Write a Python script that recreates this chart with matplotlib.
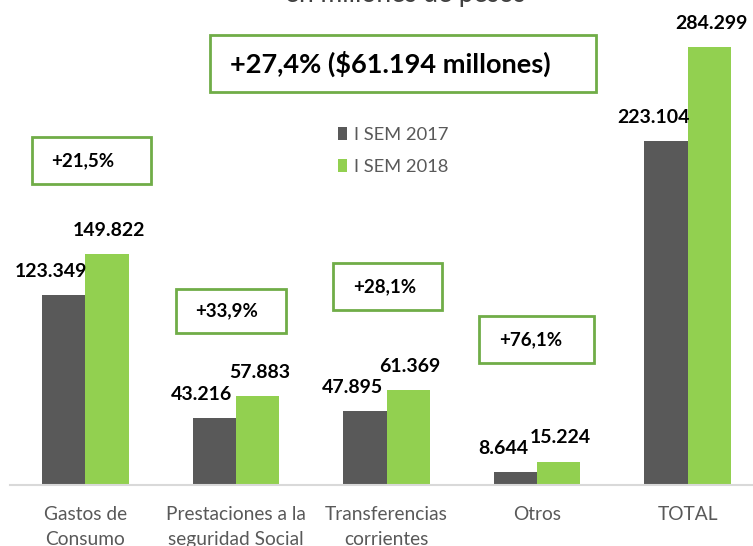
import matplotlib
matplotlib.use('Agg')
import matplotlib.pyplot as plt
from matplotlib.patches import Rectangle
import numpy as np

plt.rcParams['font.family'] = ['Lato', 'DejaVu Sans']

categories = ['Gastos de\nConsumo', 'Prestaciones a la\nseguridad Social',
              'Transferencias\ncorrientes', 'Otros', 'TOTAL']
sem_2017 = [123.349, 43.216, 47.895, 8.644, 223.104]
sem_2018 = [149.822, 57.883, 61.369, 15.224, 284.299]
labels_2017 = ['123.349', '43.216', '47.895', '8.644', '223.104']
labels_2018 = ['149.822', '57.883', '61.369', '15.224', '284.299']
series_names = ['I SEM 2017', 'I SEM 2018']
growth = ['+21,5%', '+33,9%', '+28,1%', '+76,1%']
headline = '+27,4% ($61.194 millones)'
subtitle = 'en millones de pesos'

dark = '#595959'
green = '#92D050'
box_green = '#70AD47'

W, H = 753, 546
fig = plt.figure(figsize=(W / 100, H / 100), dpi=100)
ax = fig.add_axes([10 / W, 61 / H, 753 / W, 485 / H])

x = np.arange(len(categories))
bw = 0.287
b1 = ax.bar(x - bw / 2, sem_2017, bw, color=dark, label=series_names[0])
b2 = ax.bar(x + bw / 2, sem_2018, bw, color=green, label=series_names[1])

ax.set_xlim(-0.5, 4.5)
ax.set_ylim(0, 314.8)

for rect, lab in zip(b1, labels_2017):
    ax.annotate(lab, (rect.get_x() + rect.get_width() / 2, rect.get_height()),
                xytext=(-9, 17), textcoords='offset points', ha='center', va='center',
                fontsize=14, fontweight='bold', color='black')
for rect, lab in zip(b2, labels_2018):
    ax.annotate(lab, (rect.get_x() + rect.get_width() / 2, rect.get_height()),
                xytext=(1.5, 17), textcoords='offset points', ha='center', va='center',
                fontsize=14, fontweight='bold', color='black')

for s in ['top', 'right', 'left']:
    ax.spines[s].set_visible(False)
ax.spines['bottom'].set_color('#D9D9D9')
ax.spines['bottom'].set_linewidth(1.5)
ax.set_yticks([])
ax.set_xticks(x)
ax.set_xticklabels(categories, fontsize=13.8, color='#595959', linespacing=1.55)
ax.tick_params(axis='x', length=0, pad=15)

leg = ax.legend(loc='upper left', bbox_to_anchor=(338 / W, 1 - 127 / H),
                bbox_transform=fig.transFigure, frameon=False, fontsize=13.2,
                handlelength=0.5, handleheight=0.7, handletextpad=0.35,
                labelspacing=0.85, borderpad=0, borderaxespad=0)
for t in leg.get_texts():
    t.set_color(dark)


def box(x0, y0, x1, y1, text, fs, tx=None):
    fig.add_artist(Rectangle((x0 / W, 1 - y1 / H), (x1 - x0) / W, (y1 - y0) / H,
                             transform=fig.transFigure, fill=False,
                             edgecolor=box_green, linewidth=2))
    cx = (x0 + x1) / 2 if tx is None else tx
    fig.text(cx / W, 1 - (y0 + y1) / 2 / H, text, ha='center', va='center',
             fontsize=fs, fontweight='bold', color='black')


box(210, 35, 596, 92, headline, 19.5, tx=390)
box(32, 137, 151, 184, growth[0], 13.5, tx=83)
box(176, 289, 286, 333, growth[1], 13.5, tx=227)
box(333, 263, 442, 310, growth[2], 13.5, tx=385)
box(479, 316, 594, 363, growth[3], 13.5, tx=531)

fig.text(405 / W, 1 - 2 / H, subtitle, ha='center', va='baseline',
         fontsize=19, color='#404040')

fig.savefig('out.png', dpi=100)
